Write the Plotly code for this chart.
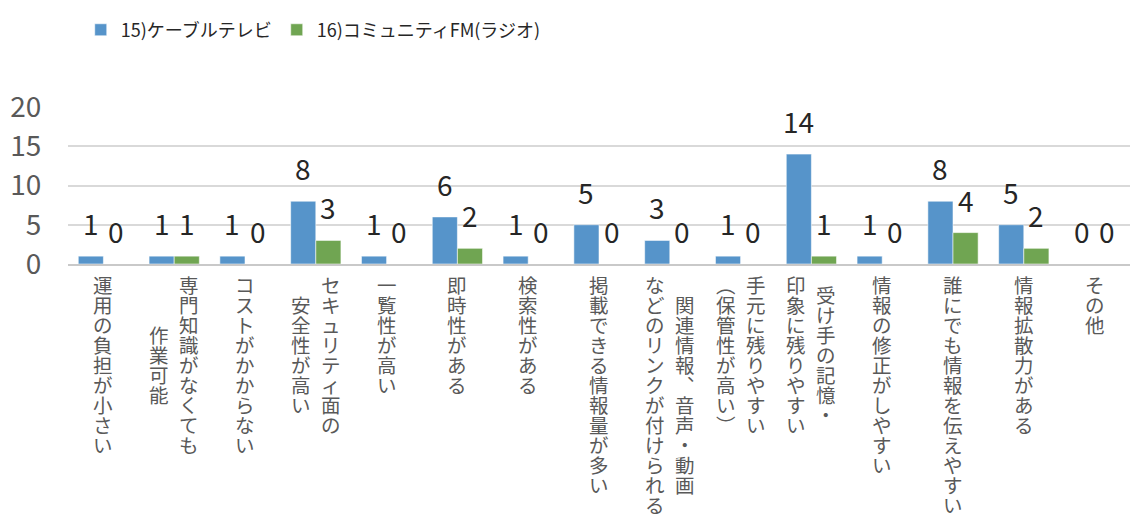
import plotly.graph_objects as go

categories = [
    "運用の負担が小さい",
    "専門知識がなくても\n作業可能",
    "コストがかからない",
    "セキュリティ面の\n安全性が高い",
    "一覧性が高い",
    "即時性がある",
    "検索性がある",
    "掲載できる情報量が多い",
    "関連情報、音声・動画\nなどのリンクが付けられる",
    "手元に残りやすい\n(保管性が高い)",
    "受け手の記憶・\n印象に残りやすい",
    "情報の修正がしやすい",
    "誰にでも情報を伝えやすい",
    "情報拡散力がある",
    "その他",
]
series_names = ["15)ケーブルテレビ", "16)コミュニティFM(ラジオ)"]
cable_tv = [1, 1, 1, 8, 1, 6, 1, 5, 3, 1, 14, 1, 8, 5, 0]
community_fm = [0, 1, 0, 3, 0, 2, 0, 0, 0, 0, 1, 0, 4, 2, 0]
y_ticks = [0, 5, 10, 15, 20]

FONT = "Noto Sans CJK JP, Noto Sans, sans-serif"
GRAY = "#595959"
cat_keys = [c.replace("\n", "") for c in categories]

BARGAP = 0.29
PLOT_W = 1136 - 68 - 6
bar_px = PLOT_W / len(categories) * (1 - BARGAP) / 2

fig = go.Figure()
annotations = []
series = [(series_names[0], cable_tv, "#5694CA"),
          (series_names[1], community_fm, "#70A552")]
for s, (name, vals, color) in enumerate(series):
    fig.add_trace(go.Bar(
        x=cat_keys, y=vals, name=name,
        marker=dict(color=color, line=dict(color="rgba(255,255,255,0.55)", width=1)),
        cliponaxis=False,
    ))
    # data labels
    for key, v in zip(cat_keys, vals):
        annotations.append(dict(
            x=key, xref="x", y=v, yref="y", text=str(v), showarrow=False,
            xanchor="center", yanchor="bottom",
            xshift=(s - 0.5) * bar_px, yshift=11,
            font=dict(family=FONT, size=28, color="#262626"),
        ))

# vertical (tategaki) category labels
vert_map = {"(": "︵", ")": "︶", "、": "︑"}
PITCH = 20
for key, cat in zip(cat_keys, categories):
    lines = cat.split("\n")
    n = len(lines)
    maxlen = max(len(l) for l in lines)
    for j, line in enumerate(lines):
        chars = [vert_map.get(ch, ch) for ch in line]
        txt = "<br>".join(f"<span style='font-size:19.5px'>{ch}</span>" for ch in chars)
        annotations.append(dict(
            x=key, xref="x", y=0, yref="paper",
            text=txt, showarrow=False,
            xanchor="center", yanchor="top",
            xshift=15 * (n - 1) - 30 * j,
            yshift=-4 - (maxlen - len(line)) * PITCH / 2,
            font=dict(family=FONT, size=PITCH / 1.3, color=GRAY),
        ))

fig.update_layout(
    width=1136, height=520,
    margin=dict(l=68, r=6, t=107, b=256),
    paper_bgcolor="white", plot_bgcolor="white",
    barmode="group", bargap=BARGAP, bargroupgap=0,
    font=dict(family=FONT, color=GRAY),
    showlegend=True,
    legend=dict(orientation="h", x=0.012, xanchor="left", y=1.49, yanchor="middle",
                font=dict(family=FONT, size=18, color="#262626"),
                itemwidth=30, traceorder="normal"),
    annotations=annotations,
    xaxis=dict(showticklabels=False, showgrid=False, showline=True,
               linecolor="#C9C9C9", linewidth=2, ticks=""),
    yaxis=dict(range=[0, 20], tickvals=y_ticks, showgrid=True,
               gridcolor="#D9D9D9", gridwidth=1.5, zeroline=False,
               showline=False, ticks="outside", ticklen=20,
               tickcolor="rgba(0,0,0,0)",
               tickfont=dict(family=FONT, size=28, color=GRAY)),
)

fig.write_html("out.html")
